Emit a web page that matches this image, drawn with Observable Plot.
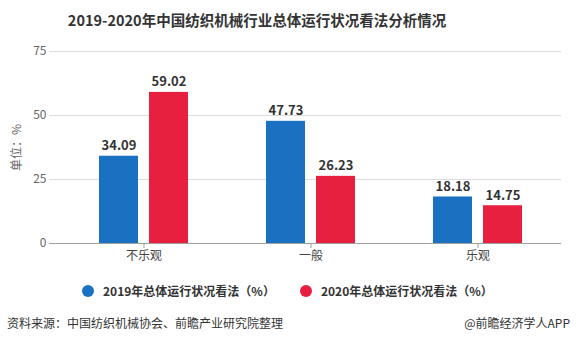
<!DOCTYPE html>
<html>
<head>
<meta charset="utf-8">
<script src="https://cdn.jsdelivr.net/npm/d3@7"></script>
<script src="https://cdn.jsdelivr.net/npm/@observablehq/plot@0.6"></script>
<style>
  html, body { margin: 0; padding: 0; background: #fff; }
  #wrap { position: relative; width: 576px; height: 343px; overflow: hidden; font-family: "Noto Sans CJK SC", "Noto Sans", sans-serif; color: #333; }
  #title { position: absolute; left: 0; width: 514px; top: 9px; text-align: center; font-size: 14.5px; font-weight: bold; line-height: 22px; color: #333; white-space: nowrap; }
  #chart { position: absolute; left: 0; top: 36px; }
  #legend { position: absolute; left: 82px; top: 282px; display: flex; align-items: center; font-size: 12px; font-weight: bold; line-height: 18px; color: #333; white-space: nowrap; }
  .item { display: flex; align-items: center; }
  .dot { width: 12px; height: 12px; border-radius: 50%; margin-right: 9px; }
  #source { position: absolute; left: 7px; top: 314px; font-size: 12px; line-height: 18px; color: #333; white-space: nowrap; }
  #brand { position: absolute; right: 6px; top: 314px; font-size: 12px; line-height: 18px; color: #333; white-space: nowrap; }
</style>
</head>
<body>
<div id="wrap">
  <div id="title"></div>
  <div id="chart"></div>
  <div id="legend"></div>
  <div id="source"></div>
  <div id="brand"></div>
</div>
<script>
const titleText = "2019-2020年中国纺织机械行业总体运行状况看法分析情况";
const categories = ["不乐观", "一般", "乐观"];
const series = ["2019年总体运行状况看法（%）", "2020年总体运行状况看法（%）"];
const values2019 = [34.09, 47.73, 18.18];
const values2020 = [59.02, 26.23, 14.75];
const yTicks = [0, 25, 50, 75];
const colors = ["#1a71c2", "#e8203f"];
const yLabel = "单位：%";
const sourceText = "资料来源：中国纺织机械协会、前瞻产业研究院整理";
const brandText = "@前瞻经济学人APP";

const data = categories.flatMap((c, i) => [
  {cat: c, s: series[0], v: values2019[i]},
  {cat: c, s: series[1], v: values2020[i]}
]);

document.getElementById("title").textContent = titleText;
document.getElementById("source").textContent = sourceText;
document.getElementById("brand").textContent = brandText;

const legend = document.getElementById("legend");
series.forEach((s, i) => {
  const item = document.createElement("div");
  item.className = "item";
  if (i > 0) item.style.marginLeft = "25px";
  const dot = document.createElement("span");
  dot.className = "dot";
  dot.style.background = colors[i];
  const label = document.createElement("span");
  label.textContent = s;
  item.appendChild(dot);
  item.appendChild(label);
  legend.appendChild(item);
});

const chart = Plot.plot({
  width: 576,
  height: 240,
  marginTop: 15,
  marginBottom: 33,
  marginLeft: 59,
  marginRight: 14,
  style: {fontFamily: "'Noto Sans CJK SC', 'Noto Sans', sans-serif", fontSize: "12px", background: "transparent"},
  fx: {domain: categories, padding: 0, label: null},
  x: {domain: series, paddingInner: 0.2157, paddingOuter: 0.755, axis: null},
  y: {domain: [0, 75], label: null},
  color: {domain: series, range: colors},
  marks: [
    Plot.gridY({ticks: yTicks.slice(1), stroke: "#dcdcdc", strokeOpacity: 1, strokeWidth: 1, insetLeft: -11}),
    Plot.barY(data, {fx: "cat", x: "s", y: "v", fill: "s"}),
    Plot.text(data, {fx: "cat", x: "s", y: "v", text: d => d.v.toFixed(2), dy: -6, lineAnchor: "bottom", fontWeight: "bold", fontSize: 13, fill: "#333"}),
    Plot.ruleY([0], {stroke: "#a0a0a0", strokeWidth: 1, insetLeft: -11}),
    Plot.axisY({ticks: yTicks, tickSize: 0, tickPadding: 14, fill: "#666", fontSize: 12, label: yLabel, labelAnchor: "center", labelOffset: 48, labelArrow: "none"}),
    Plot.axisFx({anchor: "bottom", tickSize: 5, tickPadding: 3, stroke: "#999", fill: "#444", fontSize: 12, label: null})
  ]
});
document.getElementById("chart").appendChild(chart);
</script>
</body>
</html>
